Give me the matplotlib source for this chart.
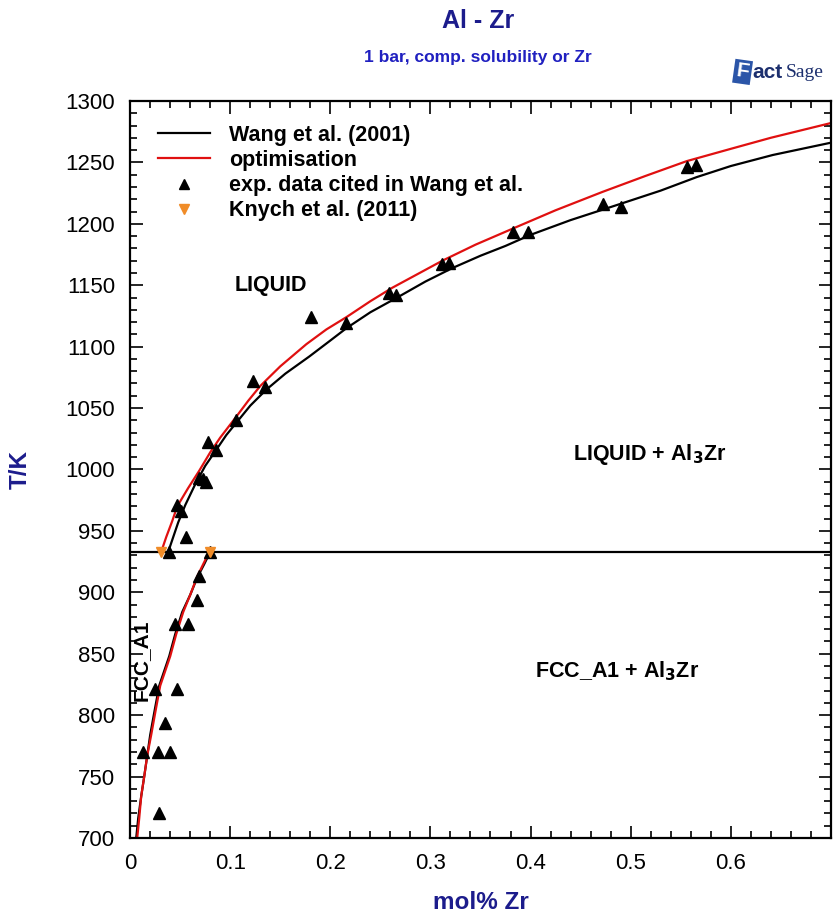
import matplotlib
matplotlib.use("Agg")
import matplotlib.pyplot as plt
from matplotlib.lines import Line2D
from matplotlib.ticker import MultipleLocator

plt.rcParams['font.family'] = ['Liberation Sans', 'DejaVu Sans']

# --- data ---
wang_liq_x = [0.038, 0.043, 0.048, 0.055, 0.065, 0.075, 0.086, 0.096, 0.106, 0.120,
              0.136, 0.155, 0.179, 0.200, 0.216, 0.240, 0.269, 0.295, 0.322, 0.350,
              0.375, 0.400, 0.440, 0.489, 0.530, 0.566, 0.600, 0.642, 0.700]
wang_liq_T = [933, 945, 957, 971, 988, 1003, 1016, 1028, 1038, 1052,
              1065, 1078, 1092, 1105, 1115, 1128, 1141, 1153, 1164, 1174,
              1182, 1191, 1203, 1216, 1227, 1238, 1247, 1256, 1266]

opt_liq_x = [0.031, 0.036, 0.042, 0.047, 0.058, 0.069, 0.080, 0.090, 0.106, 0.118,
             0.130, 0.150, 0.176, 0.196, 0.216, 0.240, 0.262, 0.287, 0.312, 0.345,
             0.382, 0.425, 0.472, 0.515, 0.556, 0.600, 0.640, 0.700]
opt_liq_T = [933, 945, 958, 970, 985, 999, 1014, 1026, 1043, 1056,
             1068, 1084, 1102, 1114, 1124, 1137, 1148, 1159, 1170, 1183,
             1196, 1211, 1226, 1239, 1251, 1261, 1270, 1282]

wang_fcc_x = [0.080, 0.074, 0.067, 0.060, 0.052, 0.045, 0.039, 0.034, 0.029, 0.024,
              0.020, 0.017, 0.014, 0.011, 0.008, 0.006]
wang_fcc_T = [933, 923, 912, 898, 884, 866, 848, 836, 824, 802,
              784, 767, 750, 734, 716, 700]

opt_fcc_x = [0.079, 0.073, 0.067, 0.060, 0.053, 0.046, 0.040, 0.035, 0.030, 0.025,
             0.021, 0.017, 0.014, 0.011, 0.009, 0.007]
opt_fcc_T = [933, 923, 913, 898, 884, 866, 848, 836, 824, 802,
             784, 767, 750, 734, 716, 700]

eutectic_T = 933

exp_x = [0.556, 0.565, 0.472, 0.490, 0.382, 0.397, 0.312, 0.319, 0.259, 0.266,
         0.181, 0.216, 0.123, 0.135, 0.106, 0.078, 0.086, 0.069, 0.073, 0.076,
         0.047, 0.051, 0.056, 0.039, 0.080, 0.069, 0.067, 0.045, 0.058, 0.025,
         0.047, 0.035, 0.013, 0.028, 0.040, 0.029]
exp_T = [1246, 1248, 1216, 1214, 1193, 1193, 1167, 1168, 1144, 1142,
         1124, 1119, 1072, 1067, 1040, 1022, 1016, 993, 992, 990,
         971, 966, 945, 933, 933, 913, 894, 874, 874, 821,
         821, 794, 770, 770, 770, 720]

knych_x = [0.031, 0.080]
knych_T = [933, 933]

legend_labels = ["Wang et al. (2001)", "optimisation",
                 "exp. data cited in Wang et al.", "Knych et al. (2011)"]

navy = "#1c1c8c"
orange = "#f08c28"
red = "#e01010"

fig = plt.figure(figsize=(8.4, 9.22), dpi=100)
ax = fig.add_axes([0.155, 0.0911, 0.834, 0.7994])

ax.plot(wang_liq_x, wang_liq_T, color='black', lw=1.6)
ax.plot(wang_fcc_x, wang_fcc_T, color='black', lw=1.6)
ax.plot(opt_liq_x, opt_liq_T, color=red, lw=1.6)
ax.plot(opt_fcc_x, opt_fcc_T, color=red, lw=1.6)
ax.axhline(eutectic_T, color='black', lw=1.6)
ax.plot(exp_x, exp_T, linestyle='none', marker='^', ms=8, color='black')
ax.plot(knych_x, knych_T, linestyle='none', marker='v', ms=7, color=orange)

ax.set_xlim(0, 0.7)
ax.set_ylim(700, 1300)
ax.xaxis.set_major_locator(MultipleLocator(0.1))
ax.xaxis.set_minor_locator(MultipleLocator(0.02))
ax.yaxis.set_major_locator(MultipleLocator(50))
ax.yaxis.set_minor_locator(MultipleLocator(10))
ax.set_xticks([0, 0.1, 0.2, 0.3, 0.4, 0.5, 0.6])
ax.set_xticklabels(["0", "0.1", "0.2", "0.3", "0.4", "0.5", "0.6"])
ax.tick_params(which='both', direction='in', top=True, right=True, width=1.2,
               labelsize=16)
ax.tick_params(axis='y', which='major', length=9, pad=11)
ax.tick_params(axis='x', which='major', length=9, pad=11)
ax.tick_params(which='minor', length=5)
for s in ax.spines.values():
    s.set_linewidth(1.6)

ax.set_xlabel("mol% Zr", fontsize=17.5, fontweight='bold', color=navy, labelpad=12)
ax.set_ylabel("T/K", fontsize=17.5, fontweight='bold', color=navy, labelpad=24)

handles = [Line2D([], [], color='black', lw=1.6),
           Line2D([], [], color=red, lw=1.6),
           Line2D([], [], color='black', marker='^', ms=7, linestyle='none'),
           Line2D([], [], color=orange, marker='v', ms=7, linestyle='none')]
leg = ax.legend(handles, legend_labels, loc='upper left', frameon=False,
                bbox_to_anchor=(0.04, 0.968), borderaxespad=0, borderpad=0,
                handlelength=2.4, handletextpad=0.9, labelspacing=0.2,
                prop={'size': 15.5, 'weight': 'bold'})

ax.text(0.141, 1150, "LIQUID", fontsize=15.5, fontweight='bold', ha='center', va='center')
ax.text(0.519, 1012, "LIQUID + Al$_\\mathbf{3}$Zr", fontsize=15.5, fontweight='bold',
        ha='center', va='center')
ax.text(0.486, 836, "FCC_A1 + Al$_\\mathbf{3}$Zr", fontsize=15.5, fontweight='bold',
        ha='center', va='center')
ax.text(0.011, 845, "FCC_A1", fontsize=15, fontweight='bold', ha='center',
        va='center', rotation=90)

fig.text(0.569, 0.977, "Al - Zr", fontsize=18, fontweight='bold', color=navy,
         ha='center', va='center')
fig.text(0.569, 0.938, "1 bar, comp. solubility or Zr", fontsize=12.5, fontweight='bold',
         color='#2020c0', ha='center', va='center')

# FactSage logo (approximation)
fig.text(0.884, 0.922, "F", fontsize=15, fontweight='bold', color='white',
         ha='center', va='center', rotation=-8,
         bbox=dict(boxstyle='square,pad=0.12', fc='#2b55a8', ec='none'))
fig.text(0.896, 0.921, "act", fontsize=15, fontweight='bold', color='#1c2f6e',
         ha='left', va='center')
fig.text(0.935, 0.921, "Sage", fontsize=14, color='#1c2f6e', ha='left', va='center',
         family='Liberation Serif')

fig.savefig("out.png", dpi=100)
